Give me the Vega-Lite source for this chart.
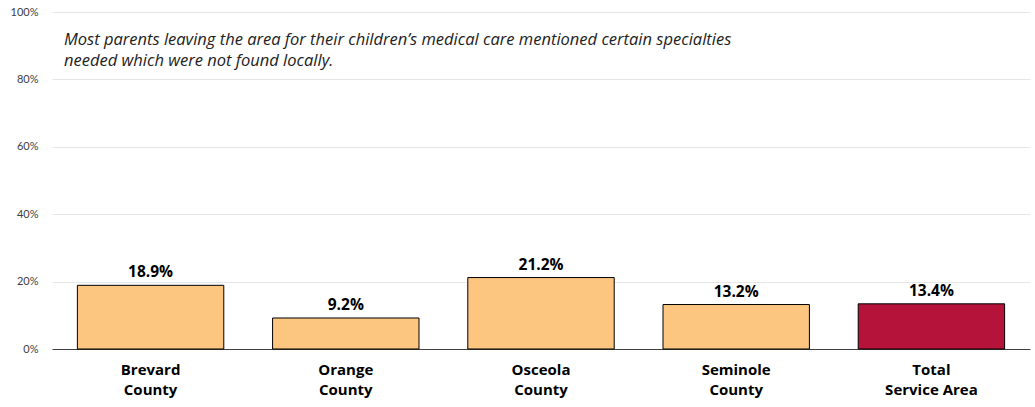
{
  "$schema": "https://vega.github.io/schema/vega-lite/v6.json",
  "autosize": {"type": "none"},
  "width": 978,
  "height": 337,
  "padding": {"left": 52, "top": 12, "right": 5, "bottom": 58},
  "background": "white",
  "title": {
    "text": ["Most parents leaving the area for their children’s medical care mentioned certain specialties", "needed which were not found locally."],
    "anchor": "start",
    "frame": "group",
    "orient": "top",
    "baseline": "top",
    "offset": -63,
    "dx": 12,
    "font": "Open Sans",
    "fontSize": 16.5,
    "fontStyle": "italic",
    "fontWeight": "normal",
    "color": "#222222",
    "lineHeight": 21
  },
  "data": {
    "values": [
      {"area": "Brevard|County", "value": 0.189, "total": "no"},
      {"area": "Orange|County", "value": 0.092, "total": "no"},
      {"area": "Osceola|County", "value": 0.212, "total": "no"},
      {"area": "Seminole|County", "value": 0.132, "total": "no"},
      {"area": "Total|Service Area", "value": 0.134, "total": "yes"}
    ]
  },
  "encoding": {
    "x": {
      "field": "area",
      "type": "nominal",
      "sort": null,
      "scale": {"paddingInner": 0.25, "paddingOuter": 0.13},
      "axis": {
        "title": null,
        "labelAngle": 0,
        "labelExpr": "split(datum.label, '|')",
        "labelFont": "Open Sans",
        "labelFontSize": 15,
        "labelFontWeight": "bold",
        "labelColor": "#000000",
        "labelPadding": 13,
        "labelLineHeight": 20,
        "ticks": false,
        "domainColor": "#404040",
        "domainWidth": 1
      }
    },
    "y": {
      "field": "value",
      "type": "quantitative",
      "scale": {"domain": [0, 1]},
      "axis": {
        "title": null,
        "format": "%",
        "values": [0, 0.2, 0.4, 0.6, 0.8, 1],
        "labelFont": "Lato",
        "labelFontSize": 11,
        "labelColor": "#404040",
        "labelPadding": 14,
        "ticks": false,
        "domain": false,
        "gridColor": "#e6e6e6",
        "gridWidth": 1
      }
    }
  },
  "layer": [
    {
      "mark": {"type": "bar", "stroke": "#000000", "strokeWidth": 1},
      "encoding": {
        "color": {
          "field": "total",
          "type": "nominal",
          "scale": {"domain": ["no", "yes"], "range": ["#FCC580", "#B5133A"]},
          "legend": null
        }
      }
    },
    {
      "mark": {"type": "text", "baseline": "bottom", "dy": -5, "font": "Open Sans", "fontSize": 15.5, "fontWeight": "bold", "color": "#000000"},
      "encoding": {
        "text": {"field": "value", "type": "quantitative", "format": ".1%"}
      }
    }
  ],
  "config": {"view": {"stroke": null}}
}
